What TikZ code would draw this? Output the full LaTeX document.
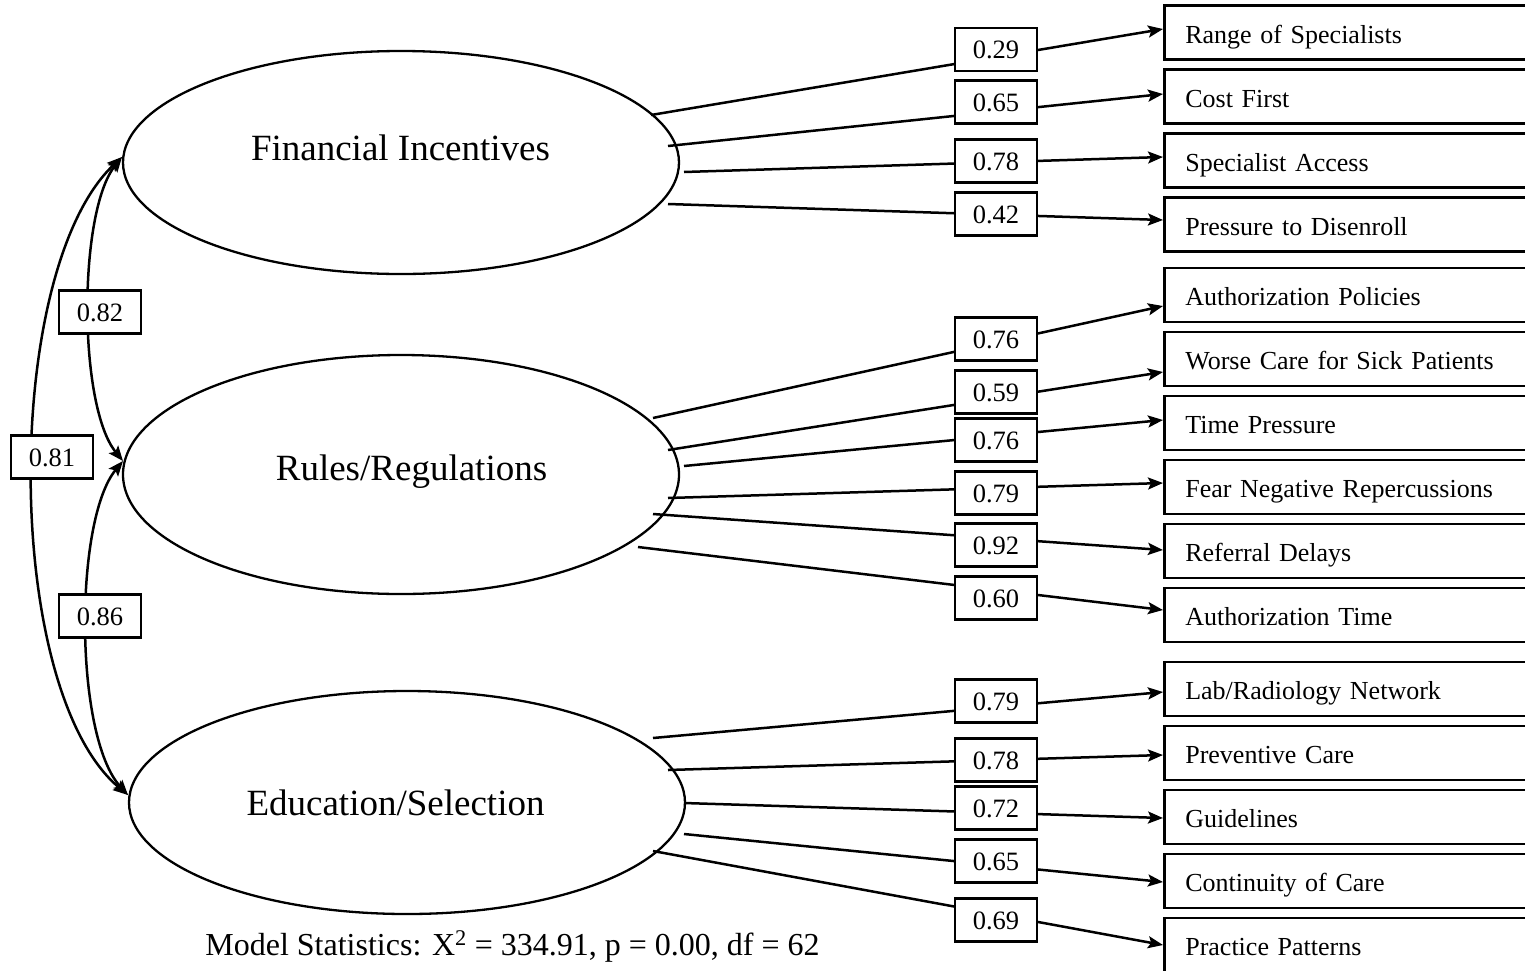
\documentclass[tikz,border=0pt]{standalone}
\usepackage{fontspec}
\setmainfont{Liberation Serif}
\usetikzlibrary{arrows.meta,calc,shapes.geometric}

\tikzset{
  latent/.style={ellipse, draw, line width=2.3pt, minimum width=556pt, inner sep=0pt},
  lattext/.style={anchor=base, inner sep=0pt, font=\fontsize{37}{40}\selectfont},
  indic/.style={draw, line width=2.6pt, anchor=west, minimum height=54pt,
    text width=340pt, inner xsep=21pt,
    font=\fontsize{26}{30}\selectfont, text height=25pt, text depth=4pt},
  coef/.style={draw, fill=white, line width=2.6pt, minimum width=82pt,
    minimum height=43pt, inner sep=0pt, font=\fontsize{26.5}{30}\selectfont,
    text height=18pt, text depth=0pt},
  tip/.tip={Stealth[length=15pt,width=12pt,inset=3pt]},
  load/.style={line width=2.5pt, -tip},
  corr/.style={line width=2.5pt, tip-tip},
}

\begin{document}
\begin{tikzpicture}[x=1pt,y=-1pt]
\useasboundingbox (0,0) rectangle (1525,970);
\clip (0,0) rectangle (1525,970);

% latent factors
\node[latent, minimum height=223pt] (fin) at (401,162.5) {};
\node[latent, minimum height=239pt] (rul) at (401,474.5) {};
\node[latent, minimum height=223pt] (edu) at (407,802.5) {};
\node[lattext] (finT) at (400.5,160) {Financial Incentives};
\node[lattext] (rulT) at (411.5,480) {Rules/Regulations};
\node[lattext] (eduT) at (395.5,815.7) {Education/Selection};

% observed indicators
\node[indic] (i1)  at (1163,32.5)  {Range of Specialists};
\node[indic] (i2)  at (1163,96.5)  {Cost First};
\node[indic] (i3)  at (1163,160.5) {Specialist Access};
\node[indic] (i4)  at (1163,224.5) {Pressure to Disenroll};
\node[indic] (i5)  at (1163,295)   {Authorization Policies};
\node[indic] (i6)  at (1163,359)   {Worse Care for Sick Patients};
\node[indic] (i7)  at (1163,423)   {Time Pressure};
\node[indic] (i8)  at (1163,487)   {Fear Negative Repercussions};
\node[indic] (i9)  at (1163,551)   {Referral Delays};
\node[indic] (i10) at (1163,615)   {Authorization Time};
\node[indic] (i11) at (1163,689)   {Lab/Radiology Network};
\node[indic] (i12) at (1163,753)   {Preventive Care};
\node[indic] (i13) at (1163,817)   {Guidelines};
\node[indic] (i14) at (1163,881)   {Continuity of Care};
\node[indic] (i15) at (1163,945)   {Practice Patterns};

% start points of the loading paths on the factor outlines
\coordinate (f1) at (651,115);
\coordinate (f2) at (668,146);
\coordinate (f3) at (684,172);
\coordinate (f4) at (668,204);
\coordinate (r1) at (653,418);
\coordinate (r2) at (668,450);
\coordinate (r3) at (684,466);
\coordinate (r4) at (668,498);
\coordinate (r5) at (653,514);
\coordinate (r6) at (638,547);
\coordinate (e1) at (653,738);
\coordinate (e2) at (668,770);
\coordinate (e3) at (684,803);
\coordinate (e4) at (684,834);
\coordinate (e5) at (653,851);

% loading paths
\draw[load] (f1) -- ($(i1.west)+(0,-3.5)$);
\draw[load] (f2) -- ($(i2.west)+(0,-2.5)$);
\draw[load] (f3) -- ($(i3.west)+(0,-3.5)$);
\draw[load] (f4) -- ($(i4.west)+(0,-4.5)$);
\draw[load] (r1) -- ($(i5.west)+(0,11)$);
\draw[load] (r2) -- ($(i6.west)+(0,13)$);
\draw[load] (r3) -- ($(i7.west)+(0,-3)$);
\draw[load] (r4) -- ($(i8.west)+(0,-4)$);
\draw[load] (r5) -- ($(i9.west)+(0,-1)$);
\draw[load] (r6) -- ($(i10.west)+(0,-5)$);
\draw[load] (e1) -- ($(i11.west)+(0,3)$);
\draw[load] (e2) -- ($(i12.west)+(0,2)$);
\draw[load] (e3) -- ($(i13.west)+(0,1)$);
\draw[load] (e4) -- ($(i14.west)+(0,1)$);
\draw[load] (e5) -- (i15.west);

% loading coefficients
\node[coef] (c1)  at (996,49.5) {0.29};
\node[coef] (c2)  at (996,102)  {0.65};
\node[coef] (c3)  at (996,161)  {0.78};
\node[coef] (c4)  at (996,214)  {0.42};
\node[coef] (c5)  at (996,339)  {0.76};
\node[coef] (c6)  at (996,392)  {0.59};
\node[coef] (c7)  at (996,440)  {0.76};
\node[coef] (c8)  at (996,493)  {0.79};
\node[coef] (c9)  at (996,545)  {0.92};
\node[coef] (c10) at (996,598)  {0.60};
\node[coef] (c11) at (996,701)  {0.79};
\node[coef] (c12) at (996,760)  {0.78};
\node[coef] (c13) at (996,808)  {0.72};
\node[coef] (c14) at (996,861)  {0.65};
\node[coef] (c15) at (996,920)  {0.69};

% factor correlations
\coordinate (finL) at (122,157);
\coordinate (rulL) at (123,461);
\coordinate (eduL) at (128,795);
\draw[corr] (finL) .. controls (78,212) and (78,406) .. (rulL);
\draw[corr] (rulL) .. controls (74,520) and (74,736) .. (eduL);
\draw[corr] (finL) .. controls (2,270) and (2,690) .. (eduL);
\node[coef] (k1) at (100,312)   {0.82};
\node[coef] (k2) at (52,457)    {0.81};
\node[coef] (k3) at (100,616)   {0.86};

% fit statistics
\node[anchor=base, inner sep=0pt, font=\fontsize{32}{36}\selectfont] (fit) at (512.5,955)
  {Model Statistics: X\textsuperscript{2} = 334.91, p = 0.00, df = 62};
\end{tikzpicture}
\end{document}
